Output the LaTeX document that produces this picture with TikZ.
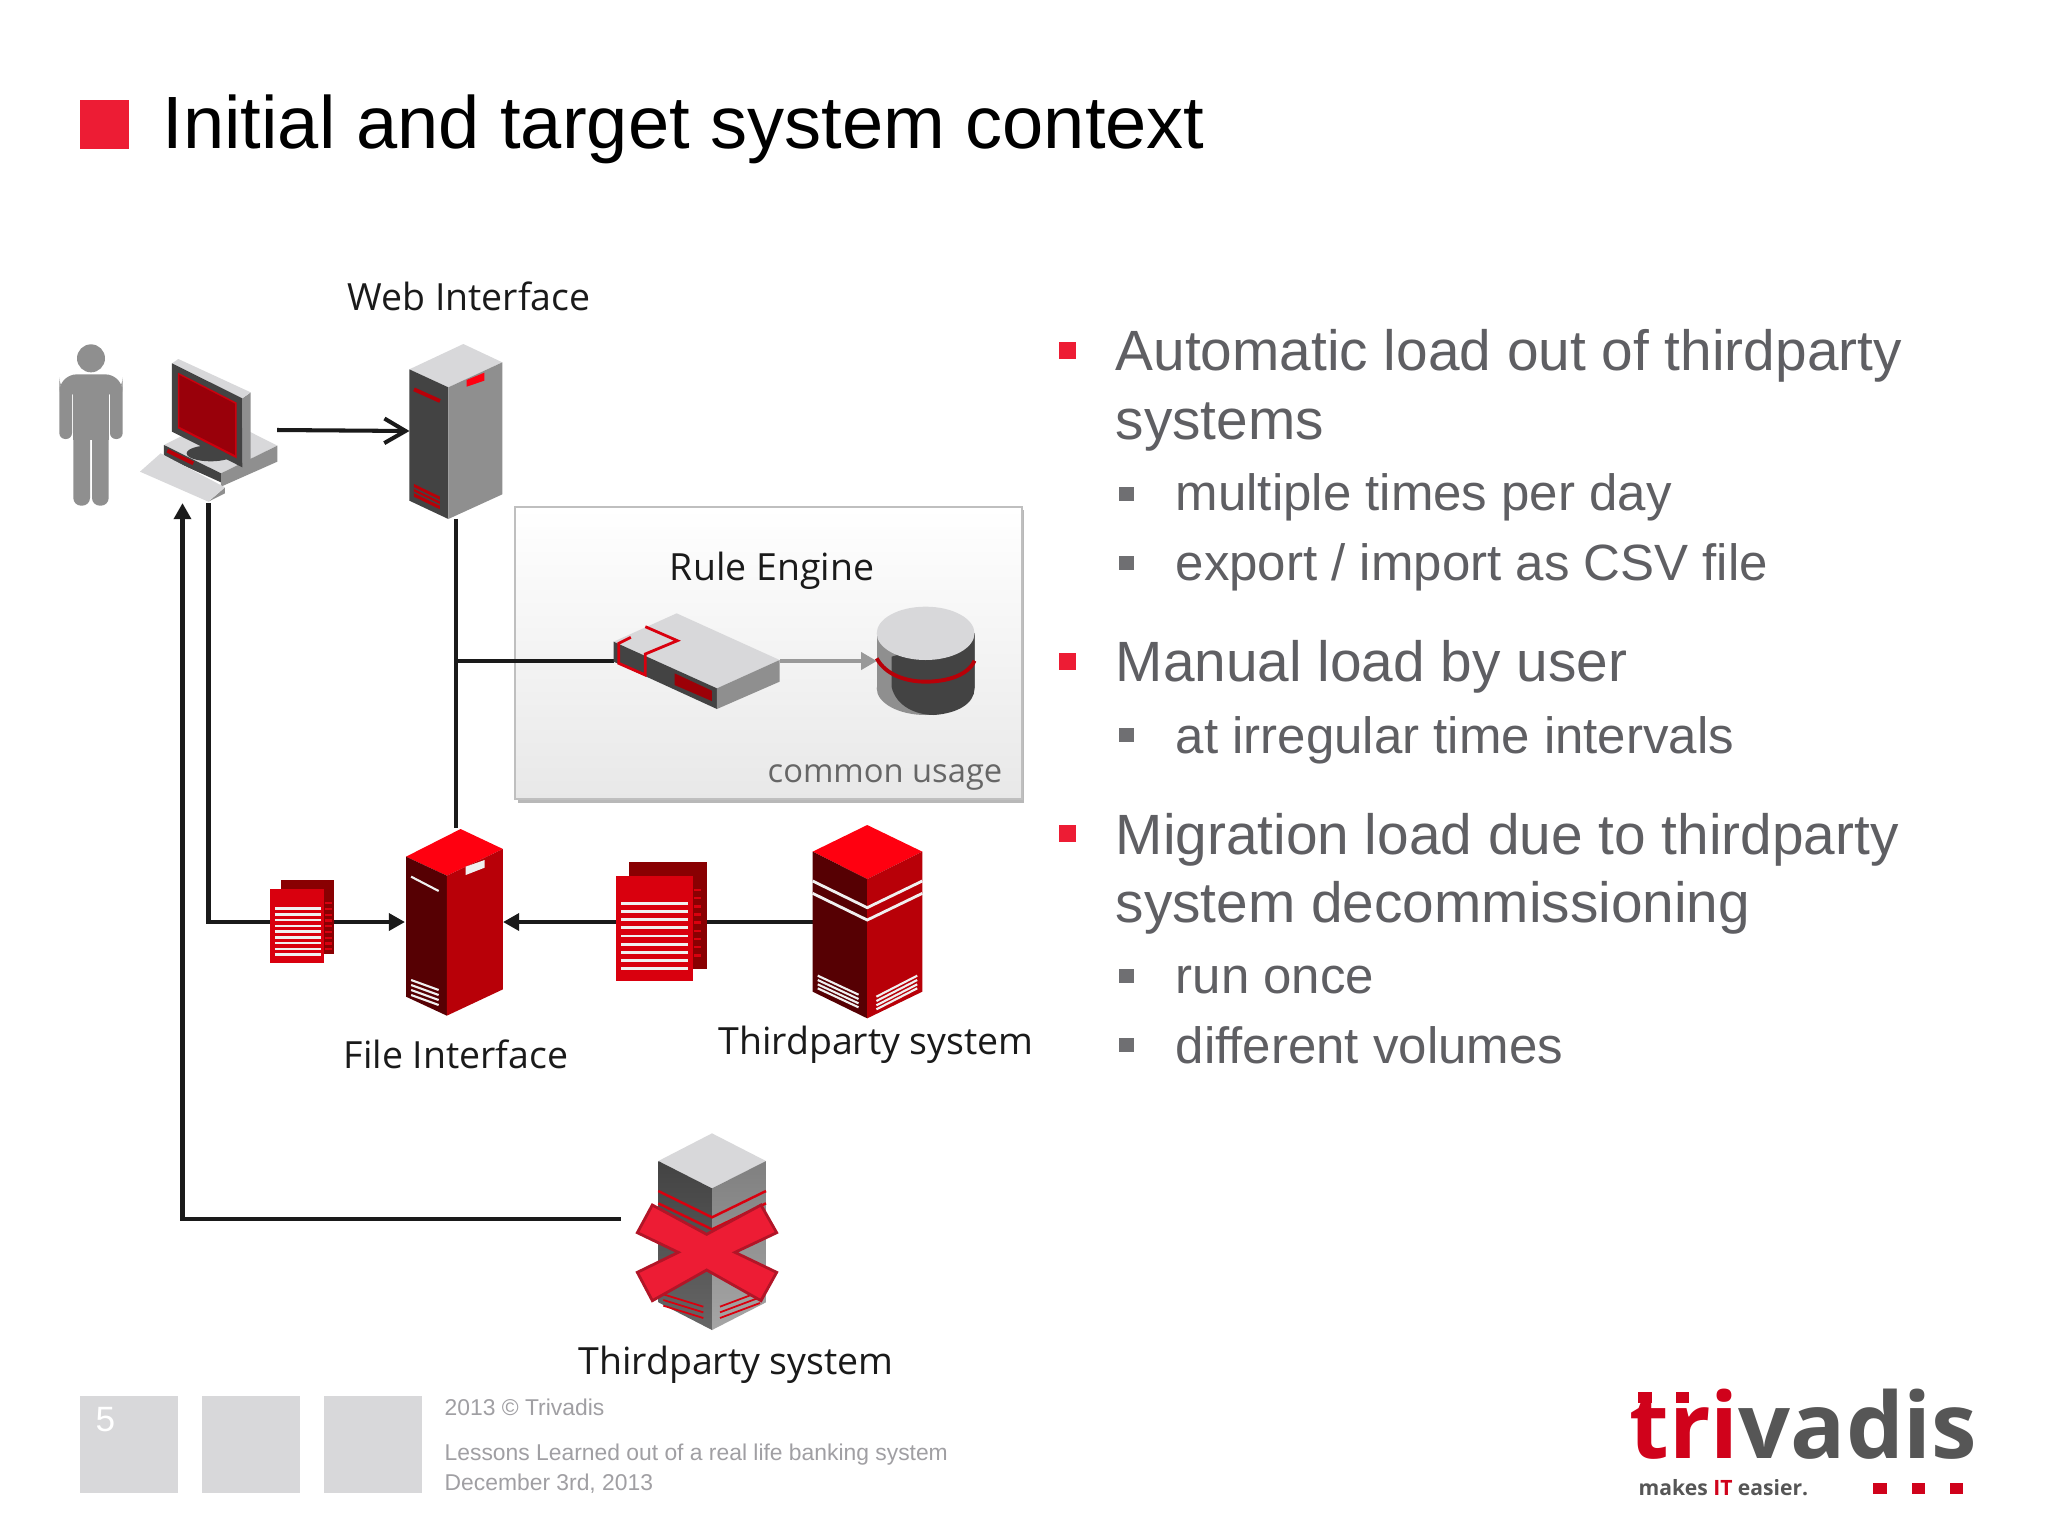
\documentclass[tikz,border=0pt]{standalone}
\usepackage{fontspec}
\usepackage{tikz}
\usetikzlibrary{arrows.meta}
\setmainfont{Liberation Sans}
\newfontfamily\labelfont{Open Sans}
\definecolor{trired}{HTML}{ED1C34}
\definecolor{darkface}{HTML}{434343}
\definecolor{midface}{HTML}{8F8F8F}
\definecolor{lightface}{HTML}{D8D8DA}
\definecolor{maroon}{HTML}{560003}
\definecolor{crimson}{HTML}{B80008}
\definecolor{hotred}{HTML}{FF0010}
\definecolor{logored}{HTML}{D0021B}
\definecolor{bodytext}{HTML}{5F5F63}
\definecolor{foot}{HTML}{A09FA3}
\definecolor{ink}{HTML}{1A1A1A}

\begin{document}
\begin{tikzpicture}[x=0.01cm,y=-0.01cm,
    icon/.style={inner sep=0pt,outer sep=0pt},
    wire/.style={draw=ink,line width=1.15pt},
    push/.style={wire,-{Triangle[length=4.6pt,width=4.8pt]}},
    barb/.style={wire,-{Straight Barb[length=6pt,width=7pt]}},
    caption/.style={text=ink,font=\labelfont\fontsize{10.65}{12}\selectfont},
    lead/.style={anchor=base west,inner sep=0pt,text=bodytext,font=\fontsize{16.15}{20}\selectfont},
    sublead/.style={anchor=base west,inner sep=0pt,text=bodytext,font=\fontsize{14.5}{18}\selectfont},
    footer/.style={anchor=base west,inner sep=0pt,text=foot,font=\fontsize{6.5}{9}\selectfont},
    tile/.style={fill=lightface,inner sep=0pt,minimum width=0.98cm,minimum height=0.97cm}]
  \useasboundingbox (0,0) rectangle (2048,1536);
  \fill[white] (0,0) rectangle (2048,1536);

  % title
  \fill[trired] (80,100) rectangle (129,149);
  \node[anchor=base west,inner sep=0pt,text=black,font=\fontsize{21.07}{25}\selectfont] (title) at (162,148) {Initial and target system context};

  % anchors of the icons
  \node[icon,minimum width=1.37cm,minimum height=1.46cm] (pc)   at (208.5,430) {};
  \node[icon,minimum width=0.93cm,minimum height=1.75cm] (web)  at (456,431)   {};
  \node[icon,minimum width=1.66cm,minimum height=0.96cm] (rule) at (697,661)   {};
  \node[icon,minimum width=0.98cm,minimum height=1.08cm] (db)   at (926,661)   {};
  \node[icon,minimum width=0.98cm,minimum height=1.87cm] (file) at (454,922)   {};
  \node[icon,minimum width=1.09cm,minimum height=1.93cm] (tps)  at (867.5,922) {};
  \node[icon,minimum width=1.62cm,minimum height=1.72cm] (old)  at (702,1219)  {};

  % rule engine panel
  \fill[black!28] (518,510) rectangle (1024,803);
  \draw[draw=black!25,line width=0.6pt,top color=white,bottom color=black!9] (515,507) rectangle (1022,799);
  \node[caption] (rulelabel) at (772,571) {Rule Engine};
  \node[caption,text=black!60,font=\labelfont\fontsize{9.3}{11}\selectfont] (usage) at (885,778) {common usage};

  % connectors
  \path[wire]  (web.south) edge (web.south |- file.north)
               (web.south |- rule.west) edge (rule.west);
  \draw[push] (pc.south) |- (file.west);
  \draw[push] (tps.west) -- (file.east);
  \draw[barb] (pc.east) -- (web.west);
  \draw[push] (old.west) -| ([xshift=-0.26cm]pc.south);
  \draw[draw=black!40,line width=1.2pt,-{Triangle[length=4.5pt,width=4.8pt]}] (rule.east) -- (db.west);

  % person and desktop
  \begin{scope}[shift={(40,260)},scale=1/3]
    \fill[midface] (153,295) circle[radius=42];
    \fill[midface,rounded corners=5pt] (58,343) rectangle (248,405);
    \fill[midface,rounded corners=1.7pt] (58,370) rectangle (96,537);
    \fill[midface,rounded corners=1.7pt] (210,370) rectangle (248,537);
    \fill[midface] (100,360) rectangle (206,540);
    \fill[midface,rounded corners=2.2pt] (100,500) rectangle (150,737);
    \fill[midface,rounded corners=2.2pt] (156,500) rectangle (206,737);

    \fill[lightface] (372,555) -- (540,470) -- (712,557) -- (543,640) -- cycle;
    \fill[midface] (543,640) -- (712,557) -- (712,605) -- (543,680) -- cycle;
    \fill[darkface] (372,555) -- (543,640) -- (543,667) -- (372,590) -- cycle;
    \draw[crimson,line width=1.1pt] (382,572) -- (460,610);
    \fill[darkface] (512,580) ellipse[x radius=72,y radius=24];
    \fill[midface] (607,415) -- (632,397) -- (632,600) -- (607,622) -- cycle;
    \fill[lightface] (396,310) -- (415,297) -- (632,397) -- (607,415) -- cycle;
    \fill[darkface] (396,310) -- (607,415) -- (607,622) -- (396,515) -- cycle;
    \fill[hotred!80!black] (414,338) -- (590,428) -- (590,595) -- (414,505) -- cycle;
    \fill[hotred!60!black] (418,345) -- (585,431) -- (585,585) -- (418,500) -- cycle;
    \fill[midface] (505,725) -- (555,700) -- (555,682) -- cycle;
    \fill[lightface] (300,635) -- (362,580) -- (555,682) -- (505,725) -- cycle;

    % web server
    \fill[lightface] (1108,328) -- (1270,252) -- (1387,307) -- (1225,382) -- cycle;
    \fill[darkface] (1108,328) -- (1225,382) -- (1225,777) -- (1108,722) -- cycle;
    \fill[midface] (1225,382) -- (1387,307) -- (1387,703) -- (1225,777) -- cycle;
    \fill[hotred] (1280,360) -- (1333,338) -- (1333,362) -- (1280,380) -- cycle;
    \draw[crimson,line width=1.1pt] (1122,388) -- (1200,423);
    \fill[crimson] (1122,672) -- (1200,710) -- (1200,748) -- (1122,710) -- cycle;
    \foreach \i in {684,697}
      \draw[darkface,line width=0.4pt] (1122,\i) -- (1200,\i+38);
  \end{scope}

  % router and database
  \begin{scope}[shift={(500,500)},xscale=1/2.904,yscale=1/3]
    \fill[lightface] (330,425) -- (513,340) -- (812,480) -- (630,565) -- cycle;
    \fill[darkface] (330,425) -- (630,565) -- (630,627) -- (330,485) -- cycle;
    \fill[midface] (630,565) -- (812,480) -- (812,545) -- (630,627) -- cycle;
    \draw[hotred!85!black,line width=0.8pt] (422,380) -- (515,422) -- (422,462) -- (422,525) -- (345,490) -- (345,430) -- (380,412);
    \fill[crimson!85!black] (507,520) -- (615,572) -- (615,603) -- (507,555) -- cycle;

    \fill[midface] (1094,400) rectangle (1378,565);
    \fill[midface] (1236,565) ellipse[x radius=142,y radius=80];
    \fill[darkface] (1137,470) -- (1137,560) .. controls (1150,620) and (1210,645) .. (1260,645) .. controls (1330,640) and (1378,610) .. (1378,565) -- (1378,400) -- cycle;
    \draw[crimson,line width=1.1pt] (1094,475) .. controls (1120,525) and (1180,545) .. (1236,545) .. controls (1300,545) and (1360,525) .. (1378,482);
    \fill[lightface] (1236,400) ellipse[x radius=142,y radius=80];
  \end{scope}

  % file interface, papers and thirdparty system
  \begin{scope}[shift={(180,810)},xscale=1/1.96,yscale=1/3]
    \fill[hotred] (443,140) -- (550,57) -- (633,117) -- (523,197) -- cycle;
    \fill[maroon] (443,140) -- (523,197) -- (523,617) -- (443,560) -- cycle;
    \fill[crimson] (523,197) -- (633,117) -- (633,538) -- (523,617) -- cycle;
    \fill[black!6] (560,170) -- (597,150) -- (597,173) -- (560,195) -- cycle;
    \draw[black!6,line width=0.6pt] (453,200) -- (507,243);
    \foreach \i in {510,525,540,555}
      \draw[black!6,line width=0.6pt] (453,\i) -- (507,\i+30);

    \fill[maroon!70!red] (197,210) rectangle (302,433);
    \foreach \i in {0,...,8}
      \draw[hotred!85!black,line width=0.6pt] (284,{280+17.2*\i}) -- (297,{280+17.2*\i});
    \fill[hotred!85!black] (177,238) rectangle (283,460);
    \foreach \i in {0,...,8}
      \draw[black!6,line width=0.7pt] (186,{296+17.2*\i}) -- (276,{296+17.2*\i});

    \fill[maroon!70!red] (881,157) rectangle (1033,476);
    \foreach \i in {0,...,8}
      \draw[hotred!85!black,line width=0.7pt] (1008,{240+24.5*\i}) -- (1022,{240+24.5*\i});
    \fill[hotred!85!black] (854,197) rectangle (1005,513);
    \foreach \i in {0,...,8}
      \draw[black!6,line width=0.8pt] (865,{280+24.5*\i}) -- (996,{280+24.5*\i});

    \fill[hotred] (1240,125) -- (1347,45) -- (1455,125) -- (1347,207) -- cycle;
    \fill[maroon] (1240,125) -- (1347,207) -- (1347,625) -- (1240,545) -- cycle;
    \fill[crimson] (1347,207) -- (1455,125) -- (1455,545) -- (1347,625) -- cycle;
    \foreach \i in {213,250}
      \draw[black!6,line width=0.8pt] (1240,\i) -- (1347,\i+80) -- (1455,\i);
    \foreach \i in {497,510,523,535} {
      \draw[black!6,line width=0.6pt] (1250,\i) -- (1330,\i+57);
      \draw[black!6,line width=0.6pt] (1365,\i+63) -- (1445,\i);
    }
  \end{scope}

  % replaced thirdparty system
  \begin{scope}[shift={(560,1110)},scale=1/3]
    \fill[lightface] (295,153) -- (456,70) -- (618,153) -- (456,235) -- cycle;
    \shade[top color=darkface,bottom color=black!60] (295,153) -- (456,235) -- (456,660) -- (295,577) -- cycle;
    \shade[top color=black!50,bottom color=black!35] (456,235) -- (618,153) -- (618,577) -- (456,660) -- cycle;
    \draw[hotred!85!black,line width=0.7pt] (295,243) -- (456,322) -- (618,243);
    \draw[hotred!85!black,line width=0.7pt] (295,280) -- (456,358) -- (618,280);
    \foreach \i in {0,1,2} {
      \draw[hotred!85!black,line width=0.5pt] (310,{553+\i*17}) -- (430,{590+\i*17});
      \draw[hotred!85!black,line width=0.5pt] (480,{590+\i*17}) -- (600,{545+\i*17});
    }
    \draw[draw=trired!75!black,fill=trired,line width=0.8pt] (277,285) -- (440,373) -- (603,285) -- (650,368) -- (525,427) -- (650,487) -- (603,572) -- (440,480) -- (277,572) -- (232,487) -- (355,427) -- (232,368) -- cycle;
  \end{scope}

  % captions of the icons
  \node[caption] (weblabel)  at (469,296)  {Web Interface};
  \node[caption] (filelabel) at (456,1054) {File Interface};
  \node[caption] (tpslabel)  at (876,1045) {Thirdparty system};
  \node[caption] (oldlabel)  at (736,1365) {Thirdparty system};

  % bullets
  \foreach \y in {350,661,833}
    \fill[trired] (1059,\y-8.5) rectangle (1076,\y+8.5);
  \foreach \y in {494,563,735,976,1045}
    \fill[bodytext!90] (1119,\y-7) rectangle (1134,\y+7);

  \node[lead]    (auto)   at (1115,370.5)  {Automatic load out of thirdparty};
  \node[lead]    (autob)  at (1115,439)    {systems};
  \node[sublead] (times)  at (1175,510.5)  {multiple times per day};
  \node[sublead] (csv)    at (1175,580)    {export / import as CSV file};
  \node[lead]    (manual) at (1115,681.5)  {Manual load by user};
  \node[sublead] (irreg)  at (1175,753.5)  {at irregular time intervals};
  \node[lead]    (migr)   at (1115,854.5)  {Migration load due to thirdparty};
  \node[lead]    (migrb)  at (1115,922.5)  {system decommissioning};
  \node[sublead] (once)   at (1175,993.5)  {run once};
  \node[sublead] (vol)    at (1175,1063)   {different volumes};

  % footer
  \node[tile] (tilea) at (129,1444.5) {};
  \node[tile] (tileb) at (251,1444.5) {};
  \node[tile] (tilec) at (373,1444.5) {};
  \node[anchor=base west,inner sep=0pt,text=white,font=\fontsize{10}{12}\selectfont] (page) at (95,1431) {5};
  \node[footer] (copy)  at (444,1415) {2013 © Trivadis};
  \node[footer] (talk)  at (444,1460) {Lessons Learned out of a real life banking system};
  \node[footer] (date)  at (444,1490) {December 3rd, 2013};

  % logo
  \node[anchor=base west,inner sep=0pt,font=\labelfont\bfseries\fontsize{26}{30}\selectfont,text=darkface!90] (logo) at (1629,1458) {\textcolor{logored}{tri}vadis};
  \begin{scope}[shift={(1600,1360)},scale=1/3]
    \foreach \x in {115,228}
      \fill[logored] (\x,97) rectangle (\x+40,130);
    \foreach \x in {820,935,1050}
      \fill[logored] (\x,368) rectangle (\x+40,403);
  \end{scope}
  \node[anchor=base west,inner sep=0pt,font=\labelfont\bfseries\fontsize{6.0}{9}\selectfont,text=darkface!90] (claim) at (1638,1495) {makes \textcolor{logored}{IT} easier.};
\end{tikzpicture}
\end{document}
